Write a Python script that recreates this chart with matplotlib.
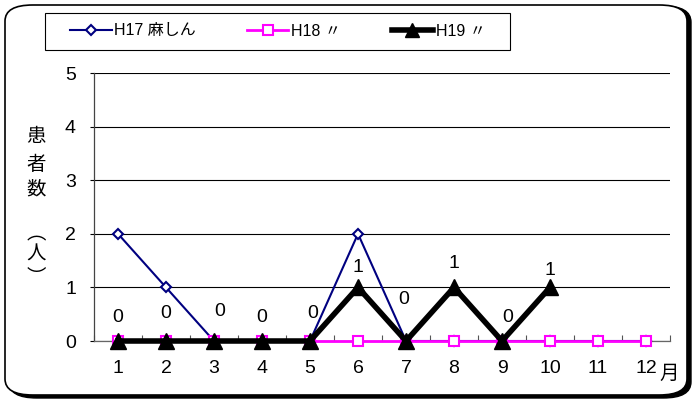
import matplotlib
matplotlib.use("Agg")
import matplotlib.pyplot as plt
from matplotlib.patches import FancyBboxPatch, Rectangle
from matplotlib.ticker import FixedLocator

months = list(range(1, 13))
month_labels = [str(m) for m in months]
h17 = [2, 1, 0, 0, 0, 2, 0, 0, 0, 0, 0, 0]
h18 = [0, 0, 0, 0, 0, 0, 0, 0, 0, 0, 0, 0]
h19 = [0, 0, 0, 0, 0, 1, 0, 1, 0, 1]
series_names = ["H17 麻しん", "H18 〃", "H19 〃"]
ylabel_chars = ["患", "者", "数", "︵", "人", "︶"]

# label offsets in points (Excel labels were nudged by hand)
label_dy = [17, 20, 21, 17, 20, 14, 30, 17, 17, 12]
label_dx = [0, 0, 4, 0, 2, 0, -2, 0, 4, 0]
# pixel rows of the stacked y-label characters
ylabel_rows = [137, 164, 189, 234, 254, 277]

FONT = ["Liberation Sans", "Noto Sans CJK JP"]
plt.rcParams["font.family"] = FONT

fig = plt.figure(figsize=(6.94, 4.01), dpi=100)
fig.patch.set_facecolor("white")

# rounded frame with shadow
shadow = FancyBboxPatch((9 / 694, 3 / 401), 682 / 694, 392 / 401,
                        boxstyle="round,pad=0,rounding_size=0.04",
                        transform=fig.transFigure, facecolor="black",
                        edgecolor="black", linewidth=1, zorder=0)
frame = FancyBboxPatch((5 / 694, 6 / 401), 682 / 694, 390 / 401,
                       boxstyle="round,pad=0,rounding_size=0.04",
                       transform=fig.transFigure, facecolor="white",
                       edgecolor="black", linewidth=1.2, zorder=0.5)
legend_box = Rectangle((45 / 694, 1 - 50 / 401), 465 / 694, 37 / 401,
                       transform=fig.transFigure, facecolor="white",
                       edgecolor="black", linewidth=0.8, zorder=1)
fig.patches.extend([shadow, frame, legend_box])

ax = fig.add_axes([94 / 694, 1 - 341 / 401, 576 / 694, 268 / 401])
ax.set_facecolor("none")
ax.set_zorder(2)

ax.plot(months, h17, color="#000080", linewidth=1.5, marker="D",
        markersize=5, markerfacecolor="white", markeredgecolor="#000080",
        markeredgewidth=1.5, label=series_names[0], clip_on=False, zorder=3)
ax.plot(months, h18, color="#FF00FF", linewidth=2, marker="s",
        markersize=6.5, markerfacecolor="white", markeredgecolor="#FF00FF",
        markeredgewidth=1.5, label=series_names[1], clip_on=False, zorder=4)
ax.plot(months[:len(h19)], h19, color="black", linewidth=4, marker="^",
        markersize=12, markerfacecolor="black", markeredgecolor="black",
        label=series_names[2], clip_on=False, zorder=5)

for m, v, dx, dy in zip(months, h19, label_dx, label_dy):
    ax.annotate(str(v), (m, v), xytext=(dx, dy), textcoords="offset points",
                ha="center", va="center", fontsize=14, zorder=6)

ax.set_xlim(0.5, 12.5)
ax.set_ylim(0, 5)
ax.set_yticks(range(0, 6))
ax.set_xticks(months)
ax.set_xticklabels(month_labels)
ax.xaxis.set_minor_locator(FixedLocator([m + 0.5 for m in range(0, 13)]))
ax.tick_params(axis="x", which="major", length=0, pad=14, labelsize=14)
ax.tick_params(axis="x", which="minor", direction="in", length=4,
               color="#555555", width=0.8)
ax.tick_params(axis="y", length=3, pad=10, labelsize=14, width=0.8)
ax.grid(axis="y", color="black", linewidth=0.8)
ax.set_axisbelow(True)
for side in ["top", "right"]:
    ax.spines[side].set_visible(False)
ax.spines["left"].set_color("#444444")
ax.spines["bottom"].set_color("#666666")
ax.spines["left"].set_linewidth(0.9)
ax.spines["bottom"].set_linewidth(0.9)

fig.text(659 / 694, 1 - 373 / 401, "月", fontsize=14, ha="left", va="center",
         family=["Noto Sans CJK JP"])
for ch, row in zip(ylabel_chars, ylabel_rows):
    fig.text(36 / 694, 1 - row / 401, ch, fontsize=14, ha="center",
             va="center", family=["Noto Sans CJK JP"])

leg = ax.legend(loc="center left", bbox_to_anchor=(70 / 694, 1 - 31 / 401),
                bbox_transform=fig.transFigure, ncol=3, frameon=False,
                fontsize=11.5, handlelength=2.6, handletextpad=0.15,
                columnspacing=3.2, borderpad=0, borderaxespad=0)
for line in leg.get_lines():
    if line.get_marker() == "^":
        line.set_markersize(10)

fig.savefig("out.png", dpi=100)
